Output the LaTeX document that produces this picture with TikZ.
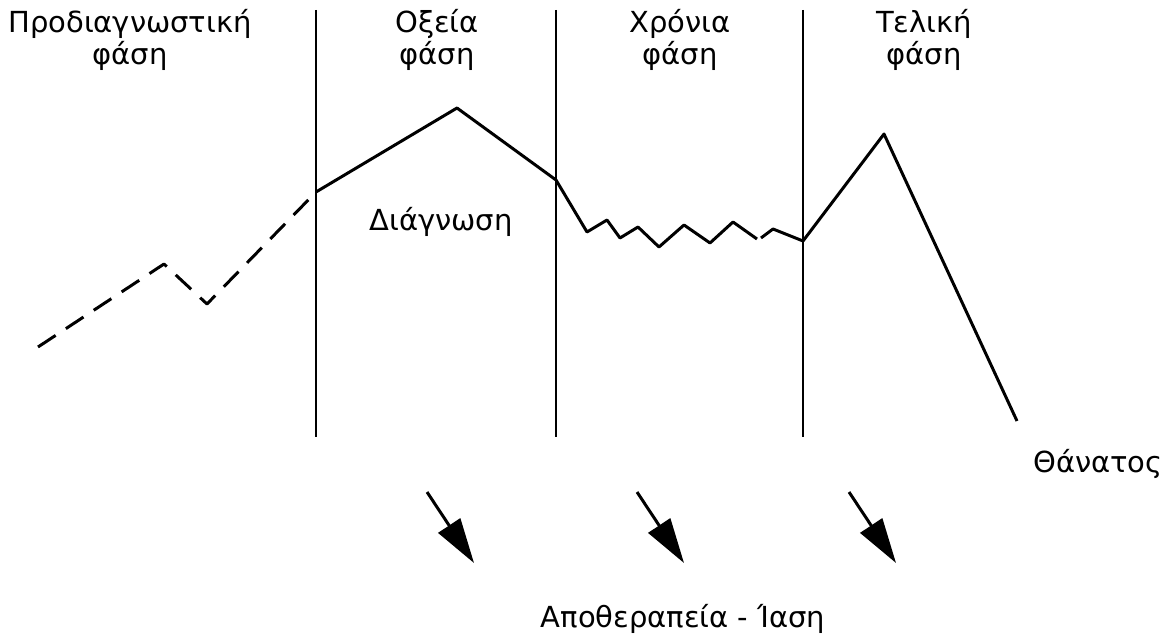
\documentclass[tikz,border=0pt]{standalone}
\usepackage{fontspec}
\setmainfont{DejaVu Sans}
\usetikzlibrary{arrows.meta}
\tikzset{
	phase/.style={align=center,font=\fontsize{16.5}{18.5}\selectfont,inner sep=0pt},
	curve/.style={line width=1.7pt,line join=round},
	bar/.style={line width=1.6pt},
	outcome/.style={line width=1.7pt,-{Triangle[length=0.9cm,width=0.52cm]}}
}
\begin{document}
	\begin{tikzpicture}[x=0.02cm,y=-0.02cm]
		\useasboundingbox (0,0) rectangle (1165,641);
		
		% separations des phases
		\draw[bar] (316,10) -- (316,437);
		\draw[bar] (556,10) -- (556,437);
		\draw[bar] (803,10) -- (803,437);
		
		% noms des phases
		\node[phase] (pre) at (130,40) {Προδιαγνωστική\\φάση};
		\node[phase] (acute) at (437,40) {Οξεία\\φάση};
		\node[phase] (chronic) at (680,40) {Χρόνια\\φάση};
		\node[phase] (final) at (924,40) {Τελική\\φάση};
		
		% points de la courbe
		\coordinate (s0) at (38,347);
		\coordinate (s1) at (164,264);
		\coordinate (s2) at (207,304);
		\coordinate (diag) at (316,192);
		\coordinate (top) at (457,108);
		\coordinate (c0) at (556,180);
		\coordinate (c1) at (803,241);
		\coordinate (peak) at (884,134);
		\coordinate (death) at (1017,421);
		
		\draw[curve,dash pattern=on 12pt off 7pt] (s0) -- (s1) -- (s2) -- (diag);
		\draw[curve] (diag) -- (top) -- (c0) -- (587,232) -- (607,220) -- (620,238) -- (638,227) -- (659,247) -- (684,225) -- (710,243) -- (733,222) -- (757,239);
		\draw[curve] (761,238) -- (773,229) -- (c1) -- (peak) -- (death);
		
		\node[phase] (diagnosis) at (441,222) {Διάγνωση};
		\node[phase] (deathlbl) at (1098,464) {Θάνατος};
		
		% sorties possibles
		\coordinate (a1) at (427,492);
		\coordinate (b1) at (474,563);
		\coordinate (a2) at (637,492);
		\coordinate (b2) at (684,563);
		\coordinate (a3) at (849,492);
		\coordinate (b3) at (896,563);
		\draw[outcome] (a1) -- (b1);
		\draw[outcome] (a2) -- (b2);
		\draw[outcome] (a3) -- (b3);
		
		\node[phase] (cure) at (683,619) {Αποθεραπεία - Ίαση};
	\end{tikzpicture}
\end{document}
